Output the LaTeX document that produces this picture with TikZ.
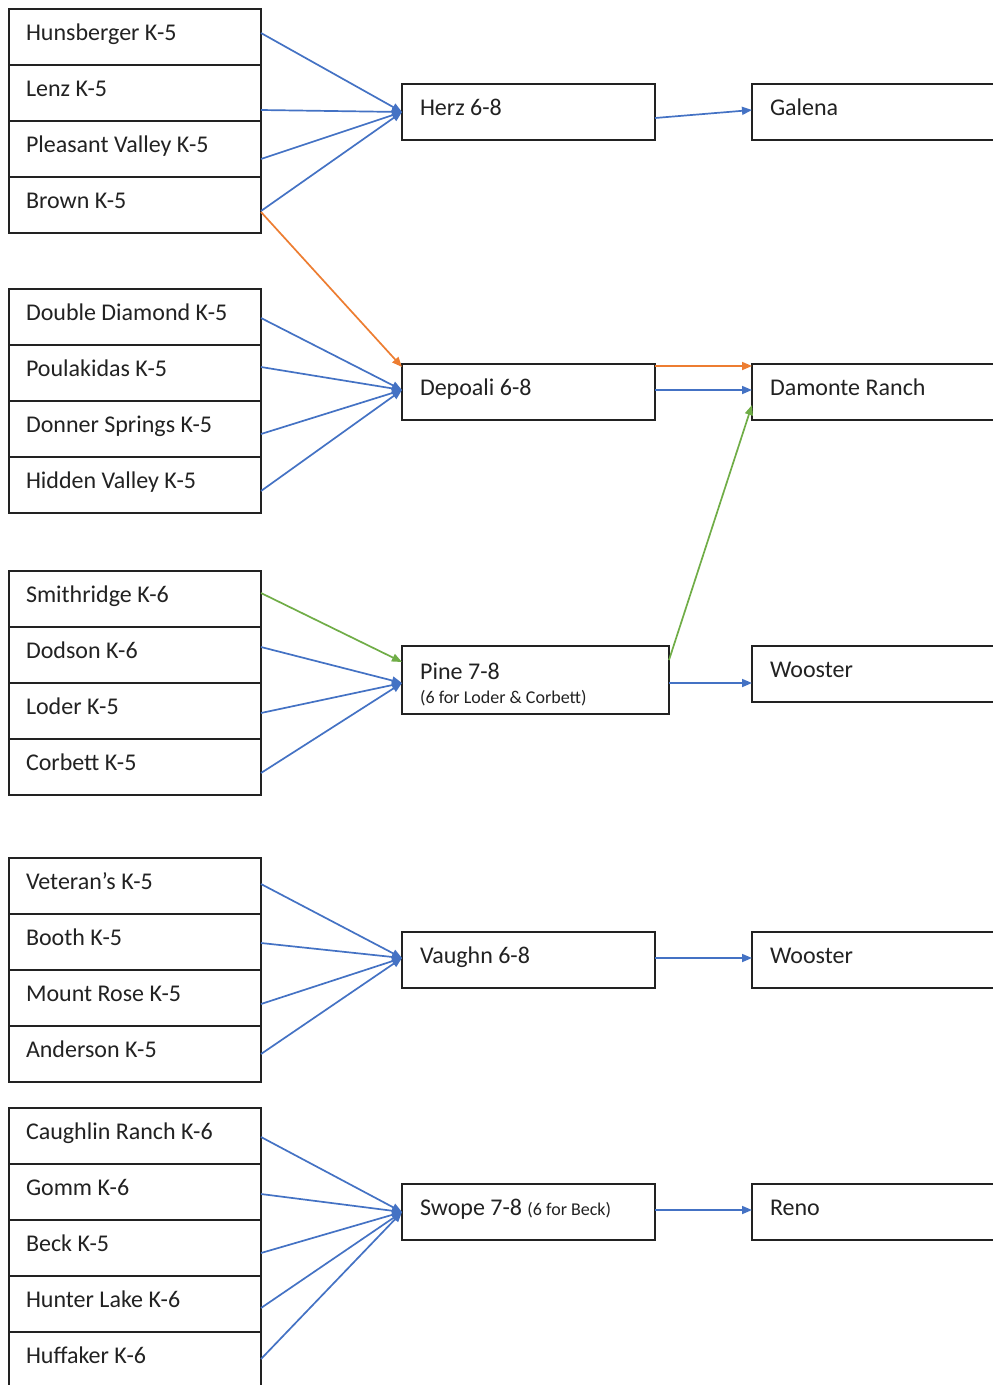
\documentclass[tikz,border=0pt]{standalone}
\usepackage{fontspec}
\setmainfont{Carlito}
\usetikzlibrary{arrows.meta,calc}
\definecolor{ablue}{HTML}{4472C4}
\definecolor{aorange}{HTML}{ED7D31}
\definecolor{agreen}{HTML}{70AD47}
\definecolor{ink}{HTML}{222222}
\begin{document}
\begin{tikzpicture}[x=1pt,y=-1pt,
  box/.style={draw=ink, line width=1.8pt, rectangle, anchor=north west, outer sep=0pt,
    align=flush left, text=ink, font=\fontsize{24}{28}\selectfont, text height=15pt, text depth=9pt},
  lbox/.style={box, minimum width=252pt, minimum height=56pt, inner xsep=17pt, text width=218pt},
  mbox/.style={box, minimum width=253pt, minimum height=56pt, inner xsep=18pt, text width=217pt},
  rbox/.style={box, minimum width=262pt, minimum height=56pt, inner xsep=18pt, text width=226pt},
  small/.style={font=\fontsize{18}{21}\selectfont},
  arr/.style={-{Triangle[length=10pt,width=8pt]}, line width=1.7pt, draw=ablue},
  oarr/.style={arr, draw=aorange},
  garr/.style={arr, draw=agreen}]
\useasboundingbox[fill=white] (0,0) rectangle (993,1385);

% left column
\node[lbox] (hun) at (9,9) {Hunsberger K-5};
\node[lbox] (len) at (9,65) {Lenz K-5};
\node[lbox] (ple) at (9,121) {Pleasant Valley K-5};
\node[lbox] (bro) at (9,177) {Brown K-5};
\node[lbox] (dou) at (9,289) {Double Diamond K-5};
\node[lbox] (pou) at (9,345) {Poulakidas K-5};
\node[lbox] (don) at (9,401) {Donner Springs K-5};
\node[lbox] (hid) at (9,457) {Hidden Valley K-5};
\node[lbox] (smi) at (9,571) {Smithridge K-6};
\node[lbox] (dod) at (9,627) {Dodson K-6};
\node[lbox] (lod) at (9,683) {Loder K-5};
\node[lbox] (cor) at (9,739) {Corbett K-5};
\node[lbox] (vet) at (9,858) {Veteran’s K-5};
\node[lbox] (boo) at (9,914) {Booth K-5};
\node[lbox] (mou) at (9,970) {Mount Rose K-5};
\node[lbox] (and) at (9,1026) {Anderson K-5};
\node[lbox] (cau) at (9,1108) {Caughlin Ranch K-6};
\node[lbox] (gom) at (9,1164) {Gomm K-6};
\node[lbox] (bec) at (9,1220) {Beck K-5};
\node[lbox] (hnt) at (9,1276) {Hunter Lake K-6};
\node[lbox] (huf) at (9,1332) {Huffaker K-6};

% middle column
\node[mbox] (herz) at (402,84) {Herz 6-8};
\node[mbox] (dep) at (402,364) {Depoali 6-8};
\node[box, minimum width=267pt, minimum height=68pt, inner sep=0pt] (pine) at (402,646) {};
\node[anchor=base west, inner sep=0pt, text=ink, font=\fontsize{24}{28}\selectfont] (pinet) at (420,679) {Pine 7-8};
\node[anchor=base west, inner sep=0pt, text=ink, small] (pines) at (420,703) {(6 for Loder \& Corbett)};
\node[mbox] (vau) at (402,932) {Vaughn 6-8};
\node[mbox] (swo) at (402,1184) {Swope 7-8 {\fontsize{18}{21}\selectfont (6 for Beck)}};

% right column
\node[rbox] (gal) at (752,84) {Galena};
\node[rbox] (dam) at (752,364) {Damonte Ranch};
\node[rbox] (woo1) at (752,646) {Wooster};
\node[rbox] (woo2) at (752,932) {Wooster};
\node[rbox] (ren) at (752,1184) {Reno};

% group 1
\draw[arr] ($(hun.east)+(0,-4)$) -- (herz.west);
\draw[arr] ($(len.east)+(0,17)$) -- (herz.west);
\draw[arr] ($(ple.east)+(0,10)$) -- (herz.west);
\draw[arr] ($(bro.east)+(0,6)$) -- (herz.west);
\draw[oarr] ($(bro.east)+(0,7)$) -- ($(dep.north west)+(0,3)$);
\draw[arr] ($(herz.east)+(0,6)$) -- ($(gal.west)+(0,-2)$);

% group 2
\draw[arr] ($(dou.east)+(0,1)$) -- ($(dep.west)+(0,-2)$);
\draw[arr] ($(pou.east)+(0,-6)$) -- ($(dep.west)+(0,-2)$);
\draw[arr] ($(don.east)+(0,5)$) -- ($(dep.west)+(0,-2)$);
\draw[arr] ($(hid.east)+(0,6)$) -- ($(dep.west)+(0,-2)$);
\draw[oarr] ($(dep.north east)+(0,2)$) -- ($(dam.north west)+(0,2)$);
\draw[arr] ($(dep.east)+(0,-2)$) -- ($(dam.west)+(0,-2)$);

% group 3
\draw[garr] ($(smi.east)+(0,-6)$) -- ($(pine.west)+(0,-18)$);
\draw[arr] ($(dod.east)+(0,-8)$) -- ($(pine.west)+(0,3)$);
\draw[arr] ($(lod.east)+(0,2)$) -- ($(pine.west)+(0,3)$);
\draw[arr] ($(cor.east)+(0,6)$) -- ($(pine.west)+(0,3)$);
\draw[garr] ($(pine.north east)+(0,14)$) -- ($(dam.west)+(0,13)$);
\coordinate (pw) at ($(pine.east)+(0,3)$);
\draw[arr] (pw) -- (pw -| woo1.west);

% group 4
\draw[arr] ($(vet.east)+(0,-2)$) -- ($(vau.west)+(0,-2)$);
\draw[arr] ($(boo.east)+(0,1)$) -- ($(vau.west)+(0,-2)$);
\draw[arr] ($(mou.east)+(0,6)$) -- ($(vau.west)+(0,-2)$);
\draw[arr] ($(and.east)+(0,0)$) -- ($(vau.west)+(0,-2)$);
\draw[arr] ($(vau.east)+(0,-2)$) -- ($(woo2.west)+(0,-2)$);

% group 5
\draw[arr] ($(cau.east)+(0,1)$) -- (swo.west);
\draw[arr] ($(gom.east)+(0,2)$) -- (swo.west);
\draw[arr] ($(bec.east)+(0,5)$) -- (swo.west);
\draw[arr] ($(hnt.east)+(0,4)$) -- (swo.west);
\draw[arr] ($(huf.east)+(0,-1)$) -- (swo.west);
\draw[arr] ($(swo.east)+(0,-2)$) -- ($(ren.west)+(0,-2)$);
\end{tikzpicture}
\end{document}
